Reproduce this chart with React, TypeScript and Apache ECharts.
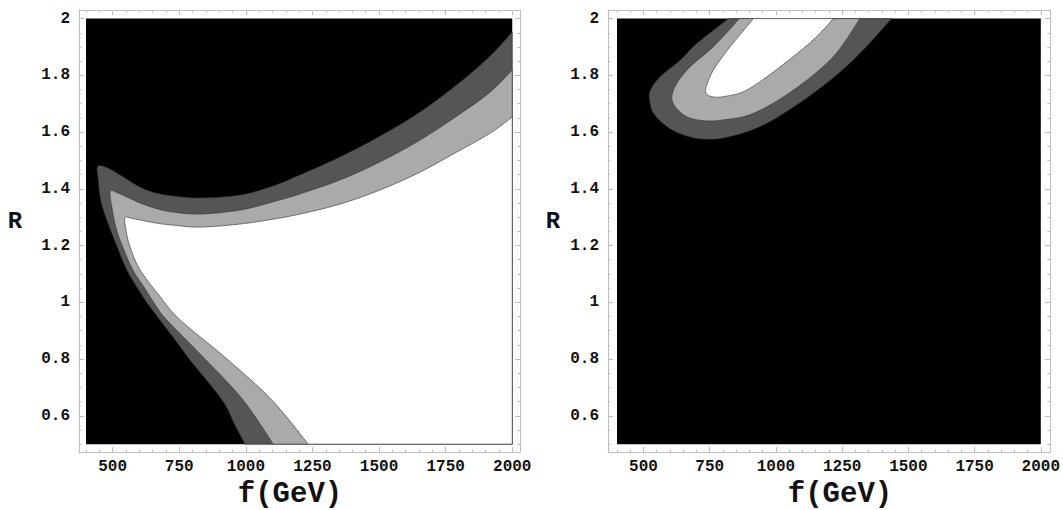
import React, { useEffect, useRef } from "react";
import * as echarts from "echarts";

// ---- data ----
const X_RANGE: [number, number] = [400, 2000];
const Y_RANGE: [number, number] = [0.5, 2];
const X_TICKS = [500, 750, 1000, 1250, 1500, 1750, 2000];
const Y_TICKS = [0.6, 0.8, 1, 1.2, 1.4, 1.6, 1.8, 2];
const X_MINOR = [400, 450, 500, 550, 600, 650, 700, 750, 800, 850, 900, 950, 1000, 1050, 1100, 1150, 1200, 1250, 1300, 1350, 1400, 1450, 1500, 1550, 1600, 1650, 1700, 1750, 1800, 1850, 1900, 1950, 2000];
const Y_MINOR = [0.5, 0.55, 0.6, 0.65, 0.7, 0.75, 0.8, 0.85, 0.9, 0.95, 1, 1.05, 1.1, 1.15, 1.2, 1.25, 1.3, 1.35, 1.4, 1.45, 1.5, 1.55, 1.6, 1.65, 1.7, 1.75, 1.8, 1.85, 1.9, 1.95, 2];
const X_NAME = "f(GeV)";
const Y_NAME = "R";

// left panel: contour boundaries (f, R), traced from bottom edge, up the left side, round the tip, to the right edge
const LEFT_DARK_EDGE: [number, number][] = [
  [997, 0.5], [959, 0.567], [911, 0.655], [790, 0.797], [734, 0.868], [640, 0.984], [600, 1.04], [553, 1.114], [515, 1.2], [478, 1.29], [455, 1.36], [446, 1.43], [443, 1.478],
  [475, 1.476], [528, 1.449], [603, 1.406], [665, 1.385], [727, 1.375], [828, 1.368], [978, 1.378], [1102, 1.41], [1203, 1.449], [1353, 1.512], [1504, 1.586], [1654, 1.671], [1804, 1.776], [1917, 1.868], [2000, 1.953],
];
const LEFT_LIGHT_EDGE: [number, number][] = [
  [1103, 0.5], [990, 0.655], [850, 0.797], [703, 0.938], [665, 0.984], [620, 1.05], [576, 1.114], [540, 1.19], [515, 1.255], [498, 1.33], [491, 1.39],
  [520, 1.385], [603, 1.35], [665, 1.33], [727, 1.318], [828, 1.311], [978, 1.325], [1102, 1.354], [1203, 1.382], [1353, 1.431], [1504, 1.495], [1654, 1.572], [1804, 1.664], [1917, 1.741], [2000, 1.819],
];
const LEFT_WHITE_EDGE: [number, number][] = [
  [1234, 0.5], [1098, 0.655], [933, 0.797], [753, 0.938], [678, 1.02], [603, 1.114], [565, 1.196], [550, 1.255], [546, 1.298],
  [570, 1.296], [603, 1.29], [665, 1.279], [727, 1.272], [828, 1.265], [978, 1.276], [1102, 1.293], [1203, 1.311], [1353, 1.346], [1504, 1.396], [1654, 1.459], [1804, 1.536], [1917, 1.596], [2000, 1.653],
];

// right panel: contour boundaries (f, R), from the top edge round the tongue back to the top edge
const RIGHT_DARK_EDGE: [number, number][] = [
  [821, 2.0], [702, 1.913], [639, 1.854], [563, 1.795], [526, 1.748], [523, 1.713], [538, 1.666], [589, 1.619], [651, 1.59], [727, 1.575], [827, 1.584], [966, 1.631], [1141, 1.737], [1292, 1.854], [1437, 2.0],
];
const RIGHT_LIGHT_EDGE: [number, number][] = [
  [862, 2.0], [764, 1.901], [676, 1.83], [626, 1.772], [607, 1.725], [620, 1.689], [664, 1.654], [727, 1.64], [802, 1.643], [915, 1.666], [1066, 1.748], [1217, 1.866], [1317, 2.0],
];
const RIGHT_WHITE_EDGE: [number, number][] = [
  [915, 2.0], [827, 1.901], [764, 1.819], [737, 1.76], [737, 1.737], [758, 1.725], [802, 1.725], [890, 1.748], [1016, 1.83], [1141, 1.925], [1217, 2.0],
];

const BOX: [number, number][] = [
  [X_RANGE[0], Y_RANGE[0]], [X_RANGE[1], Y_RANGE[0]], [X_RANGE[1], Y_RANGE[1]], [X_RANGE[0], Y_RANGE[1]],
];
const BOTTOM_RIGHT: [number, number][] = [[X_RANGE[1], Y_RANGE[0]]];

const FONT = '"Liberation Mono", "Courier New", monospace';
const FRAME = "#bdbdbd";

// Catmull-Rom smoothing of mapped pixel points (rendering only)
function smoothPath(p: number[][], seg = 10): number[][] {
  if (p.length < 3) return p;
  const out: number[][] = [];
  for (let i = 0; i < p.length - 1; i++) {
    const p0 = p[Math.max(i - 1, 0)];
    const p1 = p[i];
    const p2 = p[i + 1];
    const p3 = p[Math.min(i + 2, p.length - 1)];
    for (let k = 0; k < seg; k++) {
      const s = k / seg;
      const s2 = s * s;
      const s3 = s2 * s;
      const f = (j: number) =>
        0.5 * (2 * p1[j] + (-p0[j] + p2[j]) * s + (2 * p0[j] - 5 * p1[j] + 4 * p2[j] - p3[j]) * s2 + (-p0[j] + 3 * p1[j] - 3 * p2[j] + p3[j]) * s3);
      out.push([f(0), f(1)]);
    }
  }
  out.push(p[p.length - 1]);
  return out;
}

function regionSeries(gi: number, edge: [number, number][], corners: [number, number][], smooth: boolean, fill: string, stroke: string, lw: number, z: number) {
  return {
    type: "custom",
    xAxisIndex: gi * 4,
    yAxisIndex: gi * 4,
    coordinateSystem: "cartesian2d",
    silent: true,
    clip: true,
    z,
    data: edge,
    renderItem: (params: any, api: any) => {
      if (params.dataIndex !== 0) return null;
      const px = edge.map((p) => api.coord(p));
      const curve = smooth ? smoothPath(px) : px;
      const pts = curve.concat(corners.map((p) => api.coord(p)));
      return {
        type: "polygon",
        shape: { points: pts },
        style: { fill, stroke, lineWidth: lw },
      };
    },
  };
}

function axesFor(gi: number, xmin: number, xmax: number, ymin: number, ymax: number) {
  const base = { gridIndex: gi, type: "value", splitLine: { show: false } };
  const lbl = { fontFamily: FONT, fontWeight: "bold", fontSize: 16, color: "#111", formatter: (v: number) => String(v) };
  const xs = [
    {
      ...base, min: xmin, max: xmax, position: "bottom",
      axisLine: { show: true, onZero: false, lineStyle: { color: FRAME, width: 1 } },
      axisTick: { show: true, inside: true, length: 5, customValues: X_TICKS, lineStyle: { color: FRAME } },
      axisLabel: { show: true, customValues: X_TICKS, margin: 7, ...lbl },
    },
    {
      ...base, min: xmin, max: xmax, position: "bottom",
      axisLine: { show: false },
      axisTick: { show: true, inside: true, length: 2.5, customValues: X_MINOR, lineStyle: { color: FRAME } },
      axisLabel: { show: false },
    },
    {
      ...base, min: xmin, max: xmax, position: "top",
      axisLine: { show: true, onZero: false, lineStyle: { color: FRAME, width: 1 } },
      axisTick: { show: true, inside: true, length: 5, customValues: X_TICKS, lineStyle: { color: FRAME } },
      axisLabel: { show: false },
    },
    {
      ...base, min: xmin, max: xmax, position: "top",
      axisLine: { show: false },
      axisTick: { show: true, inside: true, length: 2.5, customValues: X_MINOR, lineStyle: { color: FRAME } },
      axisLabel: { show: false },
    },
  ];
  const ys = [
    {
      ...base, min: ymin, max: ymax, position: "left",
      axisLine: { show: true, onZero: false, lineStyle: { color: FRAME, width: 1 } },
      axisTick: { show: true, inside: true, length: 5, customValues: Y_TICKS, lineStyle: { color: FRAME } },
      axisLabel: { show: true, customValues: Y_TICKS, margin: 9, ...lbl },
    },
    {
      ...base, min: ymin, max: ymax, position: "left",
      axisLine: { show: false },
      axisTick: { show: true, inside: true, length: 2.5, customValues: Y_MINOR, lineStyle: { color: FRAME } },
      axisLabel: { show: false },
    },
    {
      ...base, min: ymin, max: ymax, position: "right",
      axisLine: { show: true, onZero: false, lineStyle: { color: FRAME, width: 1 } },
      axisTick: { show: true, inside: true, length: 5, customValues: Y_TICKS, lineStyle: { color: FRAME } },
      axisLabel: { show: false },
    },
    {
      ...base, min: ymin, max: ymax, position: "right",
      axisLine: { show: false },
      axisTick: { show: true, inside: true, length: 2.5, customValues: Y_MINOR, lineStyle: { color: FRAME } },
      axisLabel: { show: false },
    },
  ];
  return { xs, ys };
}

export default function App() {
  const ref = useRef<HTMLDivElement>(null);
  useEffect(() => {
    if (!ref.current) return;
    const chart = echarts.init(ref.current, undefined, { renderer: "svg" });
    const a0 = axesFor(0, 373.7, 2029.1, 0.4723, 2.0303);
    const a1 = axesFor(1, 366, 2034, 0.4723, 2.0303);
    const label = (x: number, y: number, text: string, size: number) => ({
      type: "text",
      x,
      y,
      silent: true,
      style: { text, font: `bold ${size}px ${FONT}`, fill: "#111", align: "center", verticalAlign: "middle" },
    });
    chart.setOption({
      animation: false,
      backgroundColor: "#ffffff",
      grid: [
        { left: 79, top: 10, width: 441, height: 442, containLabel: false },
        { left: 608, top: 10, width: 442, height: 442, containLabel: false },
      ],
      xAxis: [...a0.xs, ...a1.xs],
      yAxis: [...a0.ys, ...a1.ys],
      series: [
        regionSeries(0, BOX, [], false, "#000000", "none", 0, 1),
        regionSeries(0, LEFT_DARK_EDGE, BOTTOM_RIGHT, true, "#555555", "#2a2a2a", 0.5, 2),
        regionSeries(0, LEFT_LIGHT_EDGE, BOTTOM_RIGHT, true, "#aaaaaa", "#333333", 0.6, 3),
        regionSeries(0, LEFT_WHITE_EDGE, BOTTOM_RIGHT, true, "#ffffff", "#444444", 0.7, 4),
        regionSeries(1, BOX, [], false, "#000000", "none", 0, 1),
        regionSeries(1, RIGHT_DARK_EDGE, [], true, "#555555", "#2a2a2a", 0.5, 2),
        regionSeries(1, RIGHT_LIGHT_EDGE, [], true, "#aaaaaa", "#333333", 0.6, 3),
        regionSeries(1, RIGHT_WHITE_EDGE, [], true, "#ffffff", "#444444", 0.7, 4),
      ],
      graphic: [
        label(290, 494, X_NAME, 29),
        label(840, 494, X_NAME, 29),
        label(15, 221, Y_NAME, 24),
        label(553, 221, Y_NAME, 24),
      ],
    });
    return () => chart.dispose();
  }, []);
  return <div ref={ref} style={{ position: "absolute", left: 0, top: 0, width: 1063, height: 510 }} />;
}
